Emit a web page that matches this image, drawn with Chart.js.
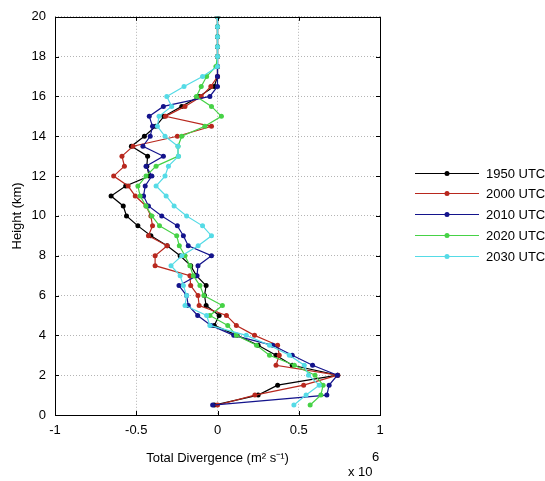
<!DOCTYPE html>
<html>
<head>
<meta charset="utf-8">
<script src="https://cdn.jsdelivr.net/npm/chart.js@4/dist/chart.umd.min.js"></script>
<style>
  html, body { margin: 0; padding: 0; background: #fff; }
  #wrap { width: 545px; height: 481px; }
</style>
</head>
<body>
<div id="wrap"><canvas id="c" width="545" height="481"></canvas></div>
<script>
// Heights (km)
const heights = [0.5,1,1.5,2,2.5,3,3.5,4,4.5,5,5.5,6,6.5,7,7.5,8,8.5,9,9.5,10,10.5,11,11.5,12,12.5,13,13.5,14,14.5,15,15.5,16,16.5,17,17.5,18,18.5,19,19.5,20];
// Total divergence (x 10^6 m^2 s^-1)
const div1950 = [-0.02,0.25,0.37,0.74,0.46,0.36,0.25,0.12,-0.02,0.01,-0.07,-0.08,-0.07,-0.13,-0.165,-0.23,-0.31,-0.41,-0.49,-0.56,-0.58,-0.655,-0.565,-0.42,-0.435,-0.43,-0.53,-0.45,-0.38,-0.33,-0.22,-0.113,-0.02,0,0,0,0,0,0,0];
const div2000 = [0.0,0.23,0.53,0.74,0.36,0.38,0.37,0.228,0.116,0.055,-0.113,-0.12,-0.165,-0.17,-0.384,-0.384,-0.31,-0.425,-0.40,-0.41,-0.44,-0.506,-0.55,-0.639,-0.573,-0.588,-0.52,-0.247,-0.037,-0.32,-0.20,-0.10,-0.041,0,0,0,0,0,0,0];
const div2010 = [-0.03,0.673,0.687,0.738,0.585,0.46,0.34,0.10,-0.04,-0.122,-0.18,-0.19,-0.237,-0.126,-0.12,-0.037,-0.18,-0.21,-0.247,-0.343,-0.425,-0.455,-0.445,-0.404,-0.44,-0.333,-0.459,-0.414,-0.40,-0.42,-0.333,-0.047,0,0,0,0,0,0,0,0];
const div2020 = [0.57,0.636,0.65,0.60,0.473,0.32,0.24,0.116,0.063,-0.047,0.03,-0.084,-0.108,-0.149,-0.17,-0.20,-0.235,-0.251,-0.357,-0.404,-0.44,-0.476,-0.49,-0.44,-0.378,-0.241,-0.243,-0.22,-0.078,0.024,-0.037,-0.13,-0.10,-0.067,-0.01,0,0,0,0,0];
const div2030 = [0.47,0.545,0.626,0.56,0.534,0.442,0.32,0.177,-0.047,-0.067,-0.20,-0.19,-0.21,-0.23,-0.286,-0.22,-0.119,-0.037,-0.092,-0.19,-0.267,-0.316,-0.378,-0.323,-0.302,-0.24,-0.243,-0.323,-0.37,-0.36,-0.282,-0.312,-0.206,-0.092,0,0,0,0,0,0];

const seriesNames = ['1950 UTC','2000 UTC','2010 UTC','2020 UTC','2030 UTC'];
const seriesValues = [div1950, div2000, div2010, div2020, div2030];
const seriesColors = ['#000000','#b8281e','#14148c','#46d246','#55dbe6'];

const xTicks = [-1,-0.5,0,0.5,1];
const yTicks = [0,2,4,6,8,10,12,14,16,18,20];

const FONT = '"Liberation Sans", Arial, Helvetica, sans-serif';

const datasets = seriesValues.map((vals, i) => ({
  label: seriesNames[i],
  data: vals.map((v, j) => ({x: v, y: heights[j]})),
  showLine: true,
  borderColor: seriesColors[i],
  backgroundColor: seriesColors[i],
  borderWidth: 1.2,
  pointRadius: 2.5,
  pointBorderWidth: 0,
  pointHoverRadius: 2.5,
  order: seriesValues.length - i
}));

const frame = {
  id: 'frame',
  afterDraw(chart) {
    const {ctx, chartArea: a, scales} = chart;
    ctx.save();
    ctx.setLineDash([]);
    ctx.strokeStyle = '#000';
    ctx.lineWidth = 1;
    ctx.strokeRect(Math.round(a.left) + 0.5, Math.round(a.top) + 0.5, Math.round(a.right - a.left), Math.round(a.bottom - a.top));
    // inward ticks
    const tl = 4;
    ctx.beginPath();
    xTicks.forEach(t => {
      const px = Math.round(scales.x.getPixelForValue(t)) + 0.5;
      ctx.moveTo(px, a.bottom); ctx.lineTo(px, a.bottom - tl);
      ctx.moveTo(px, a.top); ctx.lineTo(px, a.top + tl);
    });
    yTicks.forEach(t => {
      const py = Math.round(scales.y.getPixelForValue(t)) + 0.5;
      ctx.moveTo(a.left, py); ctx.lineTo(a.left + tl, py);
      ctx.moveTo(a.right, py); ctx.lineTo(a.right - tl, py);
    });
    ctx.stroke();
    // exponent label
    ctx.fillStyle = '#000';
    ctx.font = '13px ' + FONT;
    ctx.textAlign = 'left';
    ctx.textBaseline = 'middle';
    ctx.fillText('6', 372, 457);
    ctx.fillText('x 10', 348, 472);
    // legend
    const lx0 = 415, lx1 = 479, tx = 486;
    const rowY = [173, 193, 214, 235, 256];
    ctx.lineWidth = 1.2;
    seriesNames.forEach((name, i) => {
      const y = rowY[i] + 0.5;
      ctx.strokeStyle = seriesColors[i];
      ctx.beginPath(); ctx.moveTo(lx0, y); ctx.lineTo(lx1, y); ctx.stroke();
      ctx.fillStyle = seriesColors[i];
      ctx.beginPath(); ctx.arc((lx0 + lx1) / 2, y, 2.5, 0, Math.PI * 2); ctx.fill();
      ctx.fillStyle = '#000';
      ctx.fillText(name, tx, rowY[i] + 1);
    });
    ctx.restore();
  }
};

new Chart(document.getElementById('c'), {
  type: 'scatter',
  data: { datasets },
  options: {
    responsive: false,
    animation: false,
    devicePixelRatio: 1,
    layout: { padding: { top: 13, right: 165, left: 0, bottom: 0 } },
    plugins: { legend: { display: false }, tooltip: { enabled: false } },
    scales: {
      x: {
        type: 'linear', min: -1, max: 1,
        afterFit: s => { s.height = 66; },
        afterBuildTicks: s => { s.ticks = xTicks.map(v => ({value: v})); },
        ticks: { color: '#000', font: { size: 13, family: FONT }, padding: 8, maxRotation: 0,
                 callback: v => String(v) },
        grid: { color: '#b4b4b4', lineWidth: 1, drawTicks: false },
        border: { display: false, dash: [1, 2] },
        title: { display: true, text: 'Total Divergence (m² s⁻¹)', color: '#000',
                 font: { size: 13, family: FONT }, padding: { top: 0, bottom: 15 } }
      },
      y: {
        type: 'linear', min: 0, max: 20,
        afterFit: s => { s.width = 55; },
        afterBuildTicks: s => { s.ticks = yTicks.map(v => ({value: v})); },
        ticks: { color: '#000', font: { size: 13, family: FONT }, padding: 9,
                 callback: v => String(v) },
        grid: { color: '#b4b4b4', lineWidth: 1, drawTicks: false },
        border: { display: false, dash: [1, 2] },
        title: { display: true, text: 'Height (km)', color: '#000',
                 font: { size: 13, family: FONT }, padding: { top: 10, bottom: 0 } }
      }
    }
  },
  plugins: [frame]
});
</script>
</body>
</html>
